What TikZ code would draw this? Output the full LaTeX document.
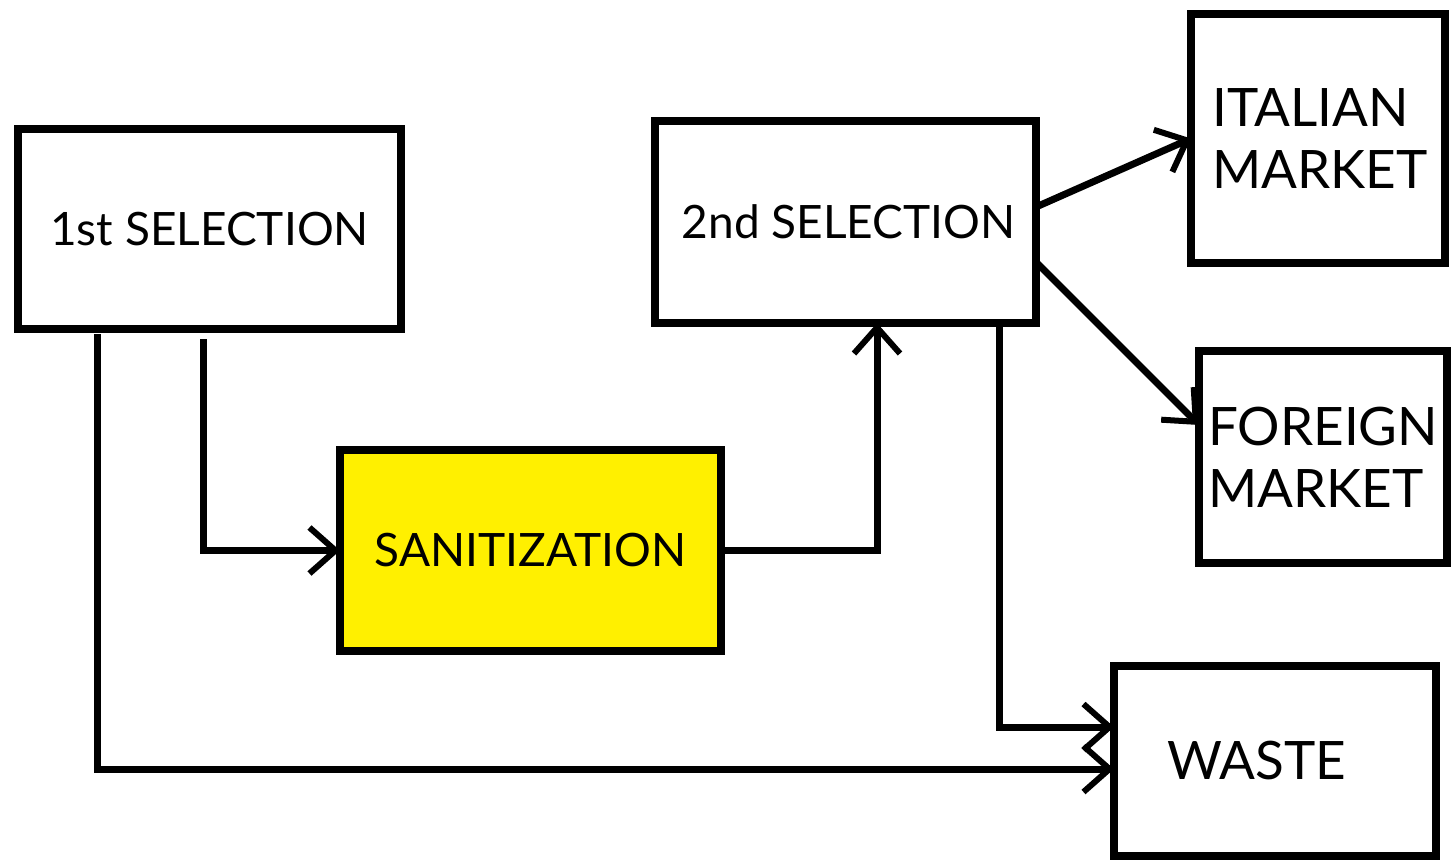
\documentclass[tikz,border=0pt]{standalone}
\usepackage{fontspec}
\setmainfont{Lato}
\usetikzlibrary{arrows.meta}
\definecolor{sanyellow}{RGB}{255,240,0}
\tikzset{
  box/.style={draw=black, line width=8pt, rectangle, inner sep=0pt, outer sep=0pt, align=left},
  conn/.style={line width=7pt, line join=miter, -{Straight Barb[length=26pt,width=46pt,line width=6pt]}},
  lbl/.style={font=\fontsize{46}{52}\selectfont},
  big/.style={font=\fontsize{53}{62}\selectfont}
}
\begin{document}
\begin{tikzpicture}[x=1pt,y=-1pt]
\useasboundingbox (0,0) rectangle (1451,864);
\node[box,lbl,minimum width=383pt,minimum height=200pt] (s1) at (209.5,229) {1st SELECTION};
\node[box,lbl,minimum width=381pt,minimum height=202pt] (s2) at (845.5,222) {\hspace*{6pt}2nd SELECTION};
\node[box,lbl,fill=sanyellow,minimum width=381pt,minimum height=201pt] (san) at (530.5,550.5) {SANITIZATION};
\node[box,big,minimum width=254pt,minimum height=249pt] (it) at (1318,138.5) {\hspace*{4pt}ITALIAN\\\hspace*{4pt}MARKET};
\node[box,big,minimum width=248pt,minimum height=212pt] (fo) at (1323,457) {FOREIGN\\MARKET};
\node[box,big,minimum width=322pt,minimum height=190pt,text width=292pt,align=left] (w) at (1275,761) {\hspace*{38pt}WASTE};
\draw[conn] ([xshift=-6.5pt,yshift=-10pt]s1.south) |- (san.west);
\draw[conn] ([xshift=-112.5pt,yshift=-5pt]s1.south) |- ([yshift=-8pt]w.west);
\draw[conn] (san.east) -| ([xshift=31.5pt]s2.south);
\draw[conn] ([xshift=153.5pt,yshift=-4pt]s2.south) |- ([yshift=34pt]w.west);
\draw[conn] ([yshift=15pt]s2.east) -- (it.west);
\draw[conn] ([yshift=-40pt]s2.east) -- ([yshift=32pt]fo.west);
\end{tikzpicture}
\end{document}
